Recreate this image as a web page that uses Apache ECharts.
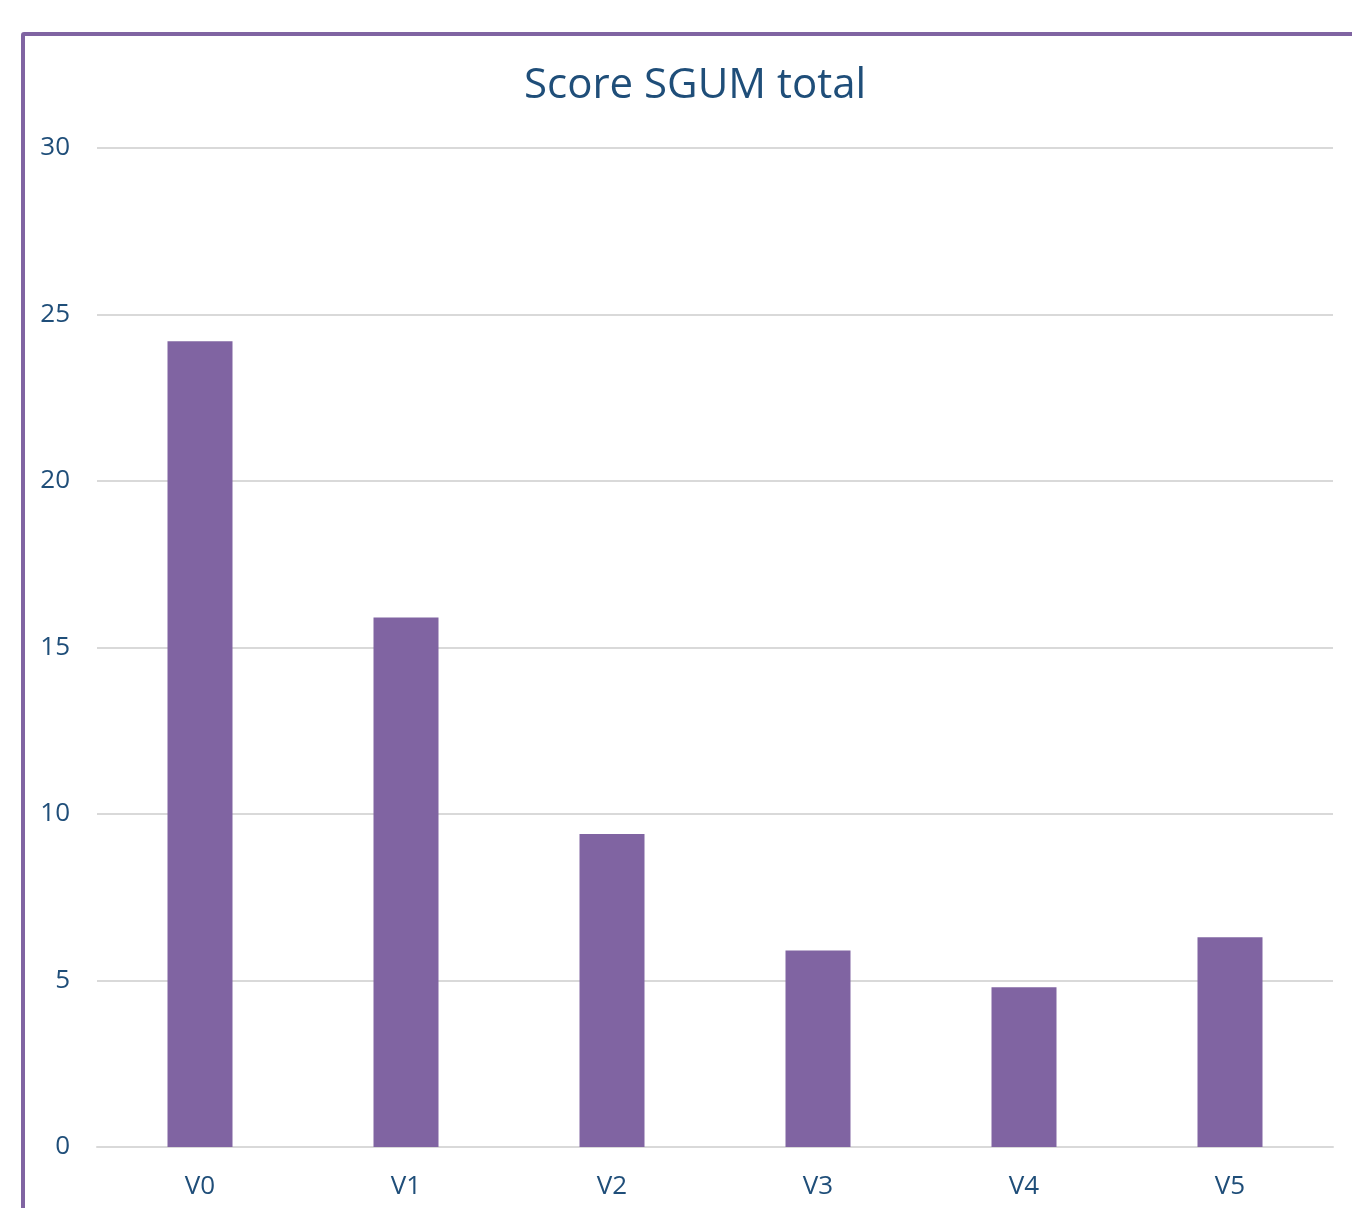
<!DOCTYPE html>
<html>
<head>
<meta charset="utf-8">
<script src="https://cdn.jsdelivr.net/npm/echarts@6/dist/echarts.min.js"></script>
<style>
  body { margin: 0; background: #fff; overflow: hidden; }
  #chart { position: absolute; left: 0; top: 0; width: 1352px; height: 1208px; }
  #frame {
    position: absolute; left: 21px; top: 32px;
    width: 1400px; height: 1300px;
    border: 4px solid #8064a2; border-radius: 3px;
    pointer-events: none;
  }
</style>
</head>
<body>
<div id="chart"></div>
<div id="frame"></div>
<script>
  // chart data
  const categories = ["V0", "V1", "V2", "V3", "V4", "V5"];
  const scores = [24.2, 15.9, 9.4, 5.9, 4.8, 6.3];

  const textColor = "#1f4e79";
  const font = "Open Sans";

  const chart = echarts.init(document.getElementById("chart"));
  chart.setOption({
    animation: false,
    title: {
      text: "Score SGUM total",
      left: 519,
      top: 60,
      textStyle: { color: textColor, fontFamily: font, fontSize: 42, fontWeight: "normal" }
    },
    grid: { left: 97, right: 19, top: 148, bottom: 61 },
    xAxis: {
      type: "category",
      data: categories,
      axisLine: { lineStyle: { color: "#d9d9d9", width: 2 } },
      axisTick: { show: false },
      axisLabel: { color: textColor, fontFamily: font, fontSize: 26, margin: 27 }
    },
    yAxis: {
      type: "value",
      min: 0,
      max: 30,
      interval: 5,
      axisLine: { show: false },
      axisTick: { show: false },
      splitLine: { lineStyle: { color: "#d9d9d9", width: 2 } },
      axisLabel: { color: textColor, fontFamily: font, fontSize: 26, margin: 27 }
    },
    series: [{
      type: "bar",
      data: scores,
      barWidth: 65,
      itemStyle: { color: "#8064a2" }
    }]
  });
</script>
</body>
</html>
